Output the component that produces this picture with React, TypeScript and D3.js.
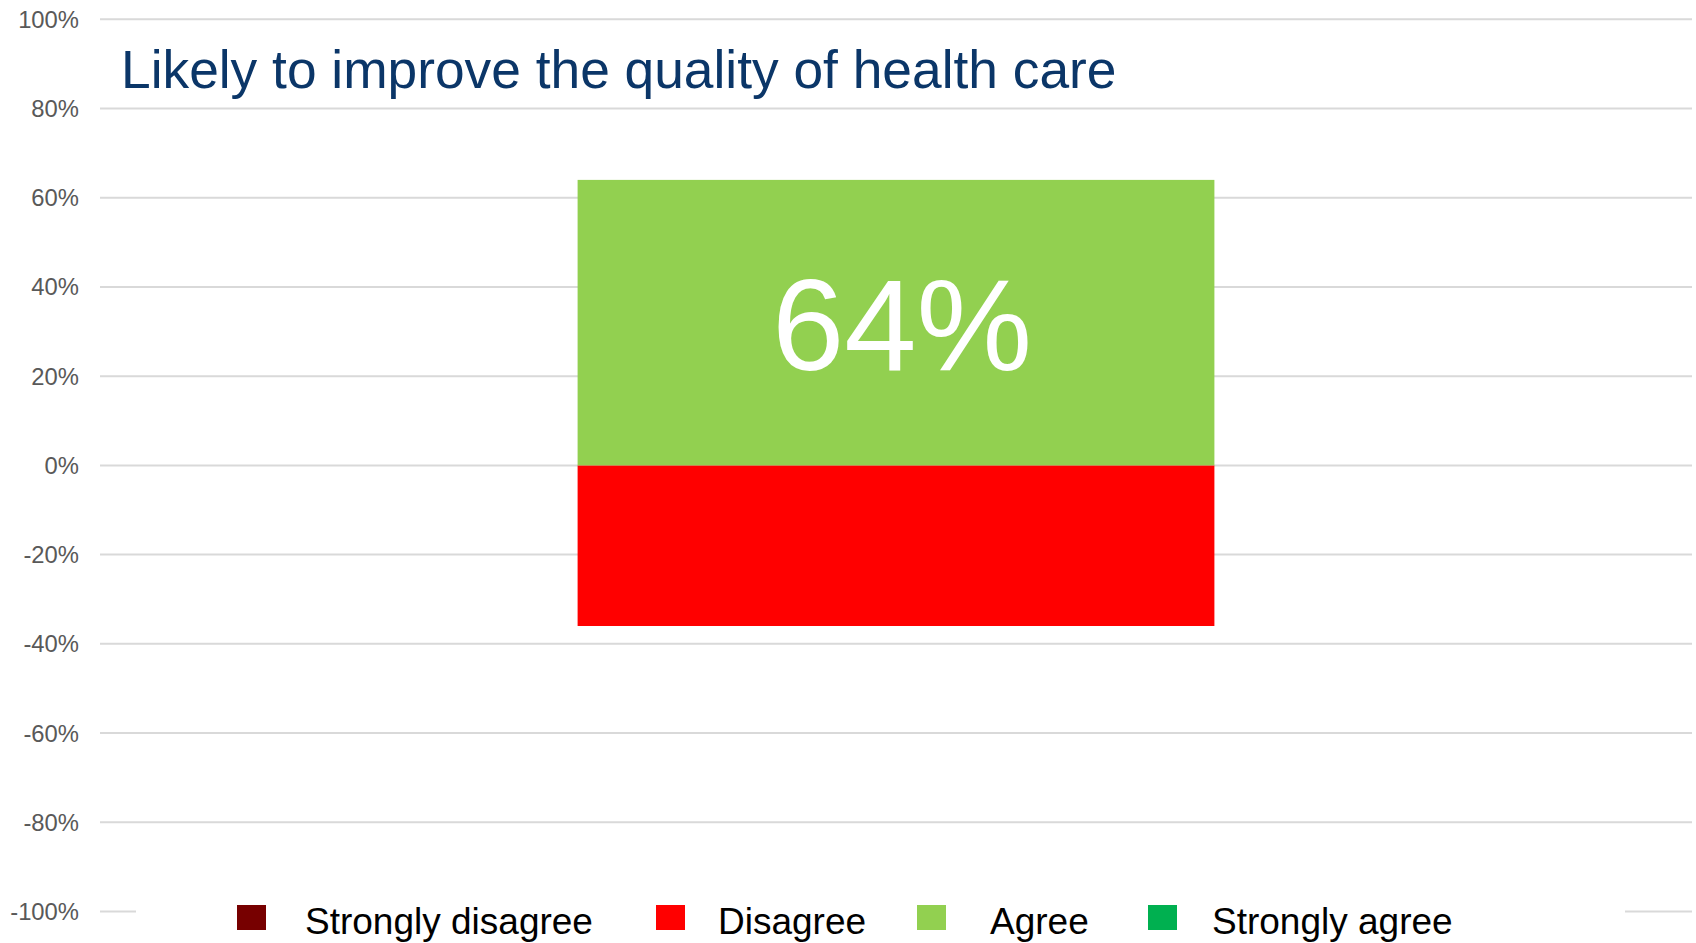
import React from "react";
import * as d3 from "d3";

const categories = ["Likely to improve the quality of health care"];
const seriesKeys = ["Strongly disagree", "Disagree", "Agree", "Strongly agree"];
const stronglyDisagree = [0];
const disagree = [-36];
const agree = [64];
const stronglyAgree = [0];
const seriesColors = ["#770000", "#FF0000", "#92D050", "#00B050"];
const tickValues = [100, 80, 60, 40, 20, 0, -20, -40, -60, -80, -100];
const title = "Likely to improve the quality of health care";
const labelSeries = ["Agree"];

const W = 1696;
const H = 943;

export default function App() {
  const rows = categories.map((c, i) => ({
    category: c,
    "Strongly disagree": stronglyDisagree[i],
    Disagree: disagree[i],
    Agree: agree[i],
    "Strongly agree": stronglyAgree[i],
  }));

  const stack = d3
    .stack<any>()
    .keys(seriesKeys)
    .offset(d3.stackOffsetDiverging);
  const stacked = stack(rows);

  const x = d3
    .scaleBand<string>()
    .domain(categories)
    .range([100, 1692])
    .paddingInner(0)
    .paddingOuter(0.75);
  const y = d3.scaleLinear().domain([-100, 100]).range([911.5, 19.3]);
  const color = d3.scaleOrdinal<string, string>().domain(seriesKeys).range(seriesColors);

  const legendSquareX = [237, 656, 917, 1148];
  const legendTextX = [305, 718, 990, 1212];
  const fmt = (v: number) => `${v}%`;

  return (
    <svg
      width={W}
      height={H}
      style={{ position: "absolute", left: 0, top: 0, background: "#fff" }}
      fontFamily="'Liberation Sans', Arial, sans-serif"
    >
      <rect x={0} y={0} width={W} height={H} fill="#fff" />
      {/* gridlines */}
      {tickValues.map((t) => (
        <line
          key={"g" + t}
          x1={100}
          x2={1692}
          y1={y(t)}
          y2={y(t)}
          stroke="#d9d9d9"
          strokeWidth={2}
        />
      ))}
      {/* tick labels */}
      {tickValues.map((t) => (
        <text
          key={"t" + t}
          x={79}
          y={y(t)}
          textAnchor="end"
          dominantBaseline="central"
          fontSize={23.8}
          fill="#595959"
        >
          {fmt(t)}
        </text>
      ))}
      {/* bars */}
      {stacked.map((s) =>
        s.map((d, i) => {
          const y0 = Math.min(y(d[0]), y(d[1]));
          const h = Math.abs(y(d[0]) - y(d[1]));
          if (h <= 0) return null;
          return (
            <rect
              key={s.key + i}
              x={x(categories[i])}
              width={x.bandwidth()}
              y={y0}
              height={h}
              fill={color(s.key)}
            />
          );
        })
      )}
      {/* data labels */}
      {stacked
        .filter((s) => labelSeries.includes(s.key))
        .map((s) =>
          s.map((d, i) => (
            <text
              key={"l" + s.key + i}
              x={(x(categories[i]) as number) + x.bandwidth() / 2 + 6}
              y={(y(d[0]) + y(d[1])) / 2 + 47}
              textAnchor="middle"
              fontSize={130}
              fill="#ffffff"
            >
              {fmt(d[1] - d[0])}
            </text>
          ))
        )}
      {/* title */}
      <text x={121} y={88} fontSize={53.3} fill="#0B3668">
        {title}
      </text>
      {/* legend */}
      <rect x={136} y={893} width={1489} height={50} fill="#fff" />
      {seriesKeys.map((k, i) => (
        <g key={"lg" + k}>
          <rect x={legendSquareX[i]} y={905} width={29} height={25} fill={color(k)} />
          <text x={legendTextX[i]} y={934} fontSize={37} fill="#000">
            {k}
          </text>
        </g>
      ))}
    </svg>
  );
}
